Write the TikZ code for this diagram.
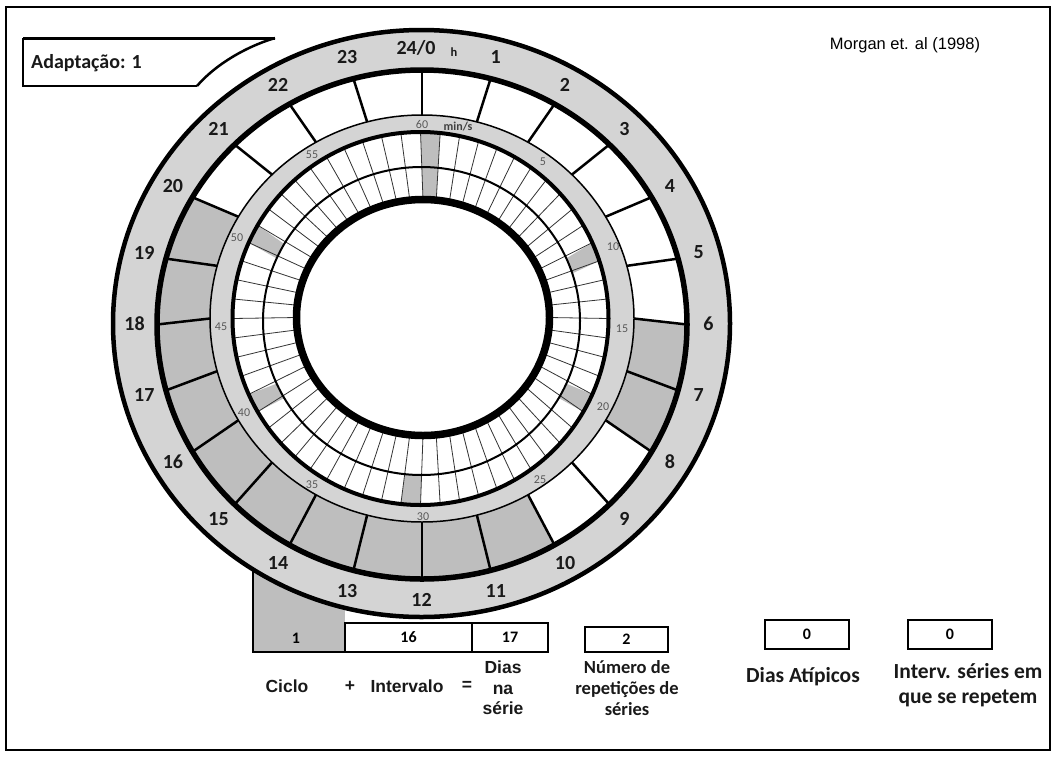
\documentclass[tikz,border=0pt]{standalone}
\usepackage{fontspec}
\setmainfont{Carlito}
\newfontfamily\arialf{Liberation Sans}
\definecolor{band}{HTML}{D4D4D4}
\definecolor{cellgray}{HTML}{BEBEBE}
\begin{document}
\begin{tikzpicture}[x=1pt,y=-1pt,
  declare function={
    rHx(\a)=422+265*cos(\a); rHy(\a)=324.5-254.5*sin(\a);
    rCx(\a)=422+212*cos(\a); rCy(\a)=318.5-203.5*sin(\a);
    rMx(\a)=420.5+188*cos(\a); rMy(\a)=318.5-186.5*sin(\a);
    rDx(\a)=421.5+158.5*cos(\a); rDy(\a)=321-154*sin(\a);
    rIx(\a)=423+126.5*cos(\a); rIy(\a)=317.5-118*sin(\a);
  },
  hourlbl/.style={font=\bfseries\fontsize{20}{20}\selectfont, text=black!90, inner sep=0pt},
  minlbl/.style={font=\fontsize{12}{12}\selectfont, text=black!65, inner sep=0pt},
  valbox/.style={draw, line width=2.8pt, inner sep=0pt, font=\bfseries\fontsize{16}{16}\selectfont},
  arlbl/.style={font=\arialf\bfseries\fontsize{17.5}{20.5}\selectfont, align=center, inner sep=0pt, text=black!90},
  cblbl/.style={font=\bfseries\fontsize{18.5}{21}\selectfont, align=center, inner sep=0pt, text=black!90},
  cbbig/.style={font=\bfseries\fontsize{21.5}{25}\selectfont, align=center, inner sep=0pt, text=black!90},
  mdiv/.style={line width=0.8pt, black!80},
  hdiv/.style={line width=2.5pt, black}
]
\useasboundingbox (0,0) rectangle (1055,756);
% frame
\draw[line width=2pt] (6,7) rectangle (1050,750);

% gray cycle box (behind circle)
\fill[cellgray] (253,566) rectangle (345,652);
\draw[line width=2.2pt] (253,566) -- (253,652) -- (345,652);

% outer band
\fill[band] (421.5,323.5) ellipse [x radius=308.5pt, y radius=293.5pt];
% hour cells
\fill[white] (422,324.5) ellipse [x radius=265pt, y radius=254.5pt];
\fill[cellgray] plot[domain=0:-30,samples=12] ({rHx(\x)},{rHy(\x)})
   -- plot[domain=-30:0,samples=12] ({rCx(\x)},{rCy(\x)}) -- cycle;
\fill[cellgray] plot[domain=-60:-210,samples=60] ({rHx(\x)},{rHy(\x)})
   -- plot[domain=-210:-60,samples=60] ({rCx(\x)},{rCy(\x)}) -- cycle;
% minute band
\fill[band] (422,318.5) ellipse [x radius=212pt, y radius=203.5pt];
\fill[white] (420.5,318.5) ellipse [x radius=188pt, y radius=186.5pt];
% gray minute cells
\foreach \k in {11,19,30,40,49}{
  \pgfmathsetmacro\aS{90-6*\k}
  \pgfmathsetmacro\aE{84-6*\k}
  \fill[cellgray] plot[domain=\aS:\aE,samples=5] ({rDx(\x)},{rDy(\x)})
    -- plot[domain=\aE:\aS,samples=5] ({rMx(\x)},{rMy(\x)}) -- cycle;
}
\fill[cellgray] plot[domain=90:84,samples=5] ({rIx(\x)},{rIy(\x)})
    -- plot[domain=84:90,samples=5] ({rMx(\x)},{rMy(\x)}) -- cycle;
% minute dividers
\foreach \m in {0,...,59}{
  \draw[mdiv] ({rIx(90-6*\m)},{rIy(90-6*\m)}) -- ({rMx(90-6*\m)},{rMy(90-6*\m)});
}
% inner white
\fill[white] (423,317.5) ellipse [x radius=126.5pt, y radius=118pt];
% hour dividers
\foreach \h in {0,...,23}{
  \draw[hdiv] ({rCx(90-15*\h)},{rCy(90-15*\h)}) -- ({rHx(90-15*\h)},{rHy(90-15*\h)});
}
% ring lines
\draw[line width=2pt] (421.5,321) ellipse [x radius=158.5pt, y radius=154pt];
\draw[line width=4pt] (420.5,318.5) ellipse [x radius=188pt, y radius=186.5pt];
\draw[line width=1.5pt] (422,318.5) ellipse [x radius=212pt, y radius=203.5pt];
\draw[line width=5.5pt] (422,324.5) ellipse [x radius=265pt, y radius=254.5pt];
\draw[line width=4.5pt] (421.5,323.5) ellipse [x radius=308.5pt, y radius=293.5pt];
\draw[line width=7.5pt] (423,317.5) ellipse [x radius=126.5pt, y radius=118pt];

% hour labels
\node[hourlbl] (h0) at (416,48) {24/0};
\node[font=\bfseries\fontsize{12.5}{12.5}\selectfont, text=black!90, inner sep=0pt] (hu) at (454,52) {h};
\foreach \h in {1,...,23}{
  \node[hourlbl] (h\h) at ({421.5+287*cos(90-15*\h)},{324-276*sin(90-15*\h)}) {\h};
}
% minute labels
\node[minlbl] (m60) at (422,124) {60};
\node[minlbl, font=\bfseries\fontsize{12}{12}\selectfont, text=black!75] (mins) at (458,127) {min/s};
\node[minlbl] (m5) at (543,162) {5};
\node[minlbl] (m10) at (613,247) {10};
\node[minlbl] (m15) at (622,329) {15};
\node[minlbl] (m20) at (603,407) {20};
\node[minlbl] (m25) at (540,480) {25};
\node[minlbl] (m30) at (423,517) {30};
\node[minlbl] (m35) at (312,485) {35};
\node[minlbl] (m40) at (244,413) {40};
\node[minlbl] (m45) at (221,327) {45};
\node[minlbl] (m50) at (237,238) {50};
\node[minlbl] (m55) at (312,155) {55};

% Adaptacao box
\fill[white] (23,38) -- (275,38) .. controls (245,47) and (215,65) .. (197,86) -- (23,86) -- cycle;
\draw[line width=3pt] (23,38) -- (275,38);
\draw[line width=2.5pt] (275,38) .. controls (245,47) and (215,65) .. (197,86);
\draw[line width=2pt] (197,86) -- (23,86) -- (23,38);
\node[anchor=west, font=\bfseries\fontsize{20}{20}\selectfont, text=black!90, inner sep=0pt] (adapt) at (31,63) {Adaptação: 1};

% Morgan
\node[font=\arialf\fontsize{16.5}{16.5}\selectfont, inner sep=0pt] (ref) at (905,45) {Morgan et. al (1998)};

% value boxes
\node[font=\bfseries\fontsize{16}{16}\selectfont, inner sep=0pt] (v1) at (296,638) {1};
\node[valbox, minimum width=127pt, minimum height=29pt] (v16) at (408.5,637.5) {16};
\node[valbox, minimum width=76pt, minimum height=29pt] (v17) at (510,637.5) {17};
\node[valbox, minimum width=83pt, minimum height=25pt] (v2) at (626.5,639.5) {2};
\node[valbox, minimum width=84pt, minimum height=29pt] (vatip) at (807,634.5) {0};
\node[valbox, minimum width=84pt, minimum height=29pt] (vint) at (950,634.5) {0};

% captions
\node[arlbl] (tciclo) at (287,686) {Ciclo};
\node[arlbl] (tplus) at (350,686) {+};
\node[arlbl] (tint) at (407,686) {Intervalo};
\node[arlbl] (teq) at (467,686) {=};
\node[arlbl] (tdias) at (503,688) {Dias\\na\\série};
\node[cblbl] (tnum) at (627,688) {Número de\\repetições de\\séries};
\node[cbbig] (tatip) at (803,677) {Dias Atípicos};
\node[cbbig] (tinterv) at (968,685) {Interv. séries em\\que se repetem};
\end{tikzpicture}
\end{document}
